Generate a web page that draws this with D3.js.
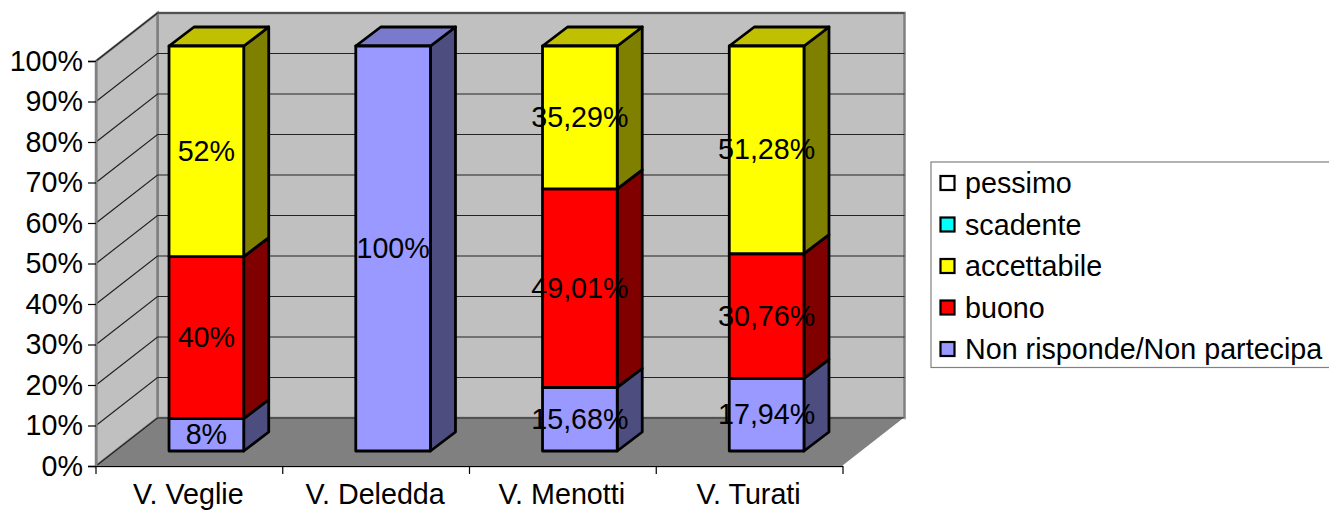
<!DOCTYPE html>
<html><head><meta charset="utf-8">
<style>html,body{margin:0;padding:0;background:#fff}svg{display:block}text{font-family:"Liberation Sans",Arial,sans-serif;fill:#000}</style>
<script src="https://d3js.org/d3.v7.min.js"></script></head><body><svg id="c" width="1329" height="510"></svg>
<script>
const categories=["V. Veglie","V. Deledda","V. Menotti","V. Turati"];
const nonRisponde=[8,100,15.68,17.94];
const buono=[40,0,49.01,30.76];
const accettabile=[52,0,35.29,51.28];
const scadente=[0,0,0,0];
const pessimo=[0,0,0,0];
const seriesNames=["Non risponde/Non partecipa","buono","accettabile","scadente","pessimo"];
const seriesValues=[nonRisponde,buono,accettabile,scadente,pessimo];
const colors=["#9999ff","#ff0000","#ffff00","#00ffff","#ffffff"];
const topColors=["#7a7acc","#cc0000","#c0c000","#00cccc","#cccccc"];
const sideColors=["#4d4d80","#800000","#808000","#008080","#808080"];
const yTicks=d3.range(0,101,10);

const svg=d3.select("#c");
const depth={x:61.5,y:-48}, barShift={x:17,y:-15}, barDepth={x:25,y:-19};
const x=d3.scaleBand().domain(categories).range([96,843]).paddingInner(0).paddingOuter(0);
const y=d3.scaleLinear().domain([0,100]).range([466,61]);
const barW=x.bandwidth()/2.5;
const poly=p=>p.map(d=>d.join(",")).join(" ");
const fs=28.7;

// walls and floor
const y0=y(0),y1=y(100),xa=x.range()[0],xb=x.range()[1];
svg.append("polygon").attr("points",poly([[xa+depth.x,y0+depth.y],[xb+depth.x,y0+depth.y],[xb+depth.x,y1+depth.y],[xa+depth.x,y1+depth.y]]))
  .attr("fill","#c0c0c0").attr("stroke","#808080").attr("stroke-width",2.5);
svg.append("polygon").attr("points",poly([[xa,y0],[xa+depth.x,y0+depth.y],[xa+depth.x,y1+depth.y],[xa,y1]]))
  .attr("fill","#c0c0c0").attr("stroke","#808080").attr("stroke-width",2.5);
svg.append("polygon").attr("points",poly([[xa,y0],[xa+depth.x,y0+depth.y],[xb+depth.x,y0+depth.y],[xb,y0]]))
  .attr("fill","#808080");
svg.append("line").attr("x1",xb).attr("y1",y0).attr("x2",xb+depth.x).attr("y2",y0+depth.y).attr("stroke","#fff").attr("stroke-width",1.5);
// gridlines
svg.append("g").selectAll("path").data(yTicks).join("path")
  .attr("d",t=>`M${xa},${y(t)}L${xa+depth.x},${y(t)+depth.y}L${xb+depth.x},${y(t)+depth.y}`)
  .attr("fill","none").attr("stroke","#222").attr("stroke-width",1.2);

// axes
const yAxis=d3.axisLeft(y).tickValues(yTicks).tickFormat(d=>d+"%").tickSize(8).tickPadding(5);
const gy=svg.append("g").attr("transform",`translate(${xa},0)`).call(yAxis);
gy.select(".domain").attr("stroke","#808080").attr("stroke-width",2);
gy.selectAll("line").attr("stroke","#000").attr("stroke-width",1.2);
gy.selectAll("text").attr("font-size",fs).attr("font-family",null);
svg.append("line").attr("x1",xa).attr("x2",xb).attr("y1",y0+0.5).attr("y2",y0+0.5).attr("stroke","#000").attr("stroke-width",1);
svg.append("line").attr("x1",xa).attr("x2",xb).attr("y1",y0+1.5).attr("y2",y0+1.5).attr("stroke","#ddd").attr("stroke-width",1);
const xTicks=svg.append("g");
xTicks.selectAll("line").data(categories.map(c=>x(c)).concat([xb])).join("line")
  .attr("x1",d=>d).attr("x2",d=>d).attr("y1",y0).attr("y2",y0+8).attr("stroke","#000").attr("stroke-width",1.2);
xTicks.selectAll("text").data(categories).join("text")
  .attr("x",c=>x(c)+x.bandwidth()/2-1).attr("y",504).attr("text-anchor","middle").attr("font-size",fs).text(c=>c);

// bars
const rows=categories.map((c,i)=>{const r={cat:c};seriesNames.forEach((s,j)=>r[s]=seriesValues[j][i]);return r;});
const stacked=d3.stack().keys(seriesNames).offset(d3.stackOffsetExpand)(rows);
const bars=svg.append("g");
const lab=[];
stacked.forEach((s,si)=>{
  s.forEach((d,i)=>{
    if(d[1]-d[0]<=0) return;
    const c=categories[i];
    const L=x(c)+(x.bandwidth()-barW)/2+barShift.x, R=L+barW;
    const yB=y(d[0]*100)+barShift.y, yT=y(d[1]*100)+barShift.y;
    const g=bars.append("g").attr("stroke","#000").attr("stroke-width",2.8).attr("stroke-linejoin","round");
    g.append("polygon").attr("points",poly([[R,yB],[R+barDepth.x,yB+barDepth.y],[R+barDepth.x,yT+barDepth.y],[R,yT]])).attr("fill",sideColors[si]);
    if(d[1]>=0.9999) g.append("polygon").attr("points",poly([[L,yT],[L+barDepth.x,yT+barDepth.y],[R+barDepth.x,yT+barDepth.y],[R,yT]])).attr("fill",topColors[si]);
    g.append("rect").attr("x",L).attr("y",yT).attr("width",barW).attr("height",yB-yT).attr("fill",colors[si]);
    lab.push({x:(L+R)/2,y:(yT+yB)/2,t:String(seriesValues[si][i]).replace(".",",")+"%"});
  });
});
svg.append("g").selectAll("text").data(lab).join("text")
  .attr("x",d=>d.x).attr("y",d=>d.y+9.5).attr("text-anchor","middle").attr("font-size",fs).text(d=>d.t);

// legend
const leg=svg.append("g");
leg.append("rect").attr("x",931).attr("y",162).attr("width",420).attr("height",205.5).attr("fill","#fff").attr("stroke","#808080").attr("stroke-width",1.2);
const order=seriesNames.map((_,i)=>i).reverse();
const ly=d3.scalePoint().domain(order).range([183,349]);
order.forEach(i=>{
  leg.append("rect").attr("x",940.5).attr("y",ly(i)-7).attr("width",14).attr("height",14).attr("fill",colors[i]).attr("stroke","#000").attr("stroke-width",2.2);
  leg.append("text").attr("x",965).attr("y",ly(i)+10).attr("font-size",fs).text(seriesNames[i]);
});
</script></body></html>
